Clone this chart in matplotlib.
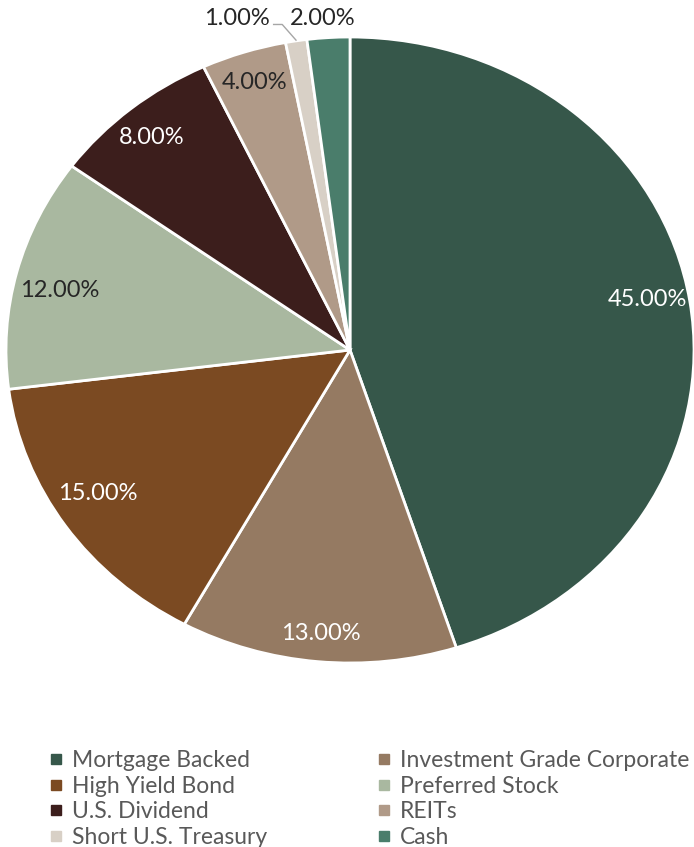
import numpy as np
import matplotlib
matplotlib.use("Agg")
import matplotlib.pyplot as plt
from matplotlib.lines import Line2D

plt.rcParams['font.family'] = ['Lato', 'DejaVu Sans']

categories = ["Mortgage Backed", "Investment Grade Corporate", "High Yield Bond",
              "Preferred Stock", "U.S. Dividend", "REITs", "Short U.S. Treasury", "Cash"]
values = [45, 13, 15, 12, 8, 4, 1, 2]
colors = ["#36574a", "#957a62", "#7b4a22", "#a9b8a0", "#3c1e1c", "#b09a88", "#d8d0c6", "#4a7d6b"]
label_colors = ["white", "white", "white", "#262626", "white", "#262626", "#262626", "#262626"]
# label placement inside the slices: distance from centre, angle nudge in degrees
label_dist = [0.88, 0.91, 0.865, 0.865, 0.89, 0.9, None, None]
label_turn = [1.5, 0, -2.3, 1.6, 0.8, 0, 0, 0]

W, H = 694, 847
fig = plt.figure(figsize=(W / 100, H / 100), dpi=100)
ax = fig.add_axes([6 / W, (H - 663) / H, 688 / W, 626 / H])

wedges, texts, pcts = ax.pie(values, colors=colors, startangle=90, counterclock=False,
                             autopct="%.2f%%", pctdistance=0.87,
                             wedgeprops=dict(edgecolor="white", linewidth=2),
                             textprops=dict(fontsize=17))
ax.set_aspect("auto")
ax.set_xlim(-1, 1)
ax.set_ylim(-1, 1)
ax.axis("off")

for w, t, c, d, turn in zip(wedges, pcts, label_colors, label_dist, label_turn):
    t.set_color(c)
    if d is not None:
        a = np.deg2rad((w.theta1 + w.theta2) / 2 + turn)
        t.set_position((d * np.cos(a), d * np.sin(a)))

# small slices get labels outside, above the pie
pcts[6].set_position((-0.33, 1.058))
pcts[7].set_position((-0.078, 1.058))
ax.plot([-0.222, -0.197, -0.157], [1.04, 1.04, 0.99], color="#a6a6a6", lw=1,
        clip_on=False)

order = [0, 2, 4, 6, 1, 3, 5, 7]
handles = [Line2D([], [], marker="s", linestyle="", markersize=7, color=colors[i])
           for i in order]
labels = [categories[i] for i in order]
fig.legend(handles, labels, loc="upper left", bbox_to_anchor=(50 / W, 1 - 750 / H),
           ncol=2, frameon=False, fontsize=16.5, labelcolor="#595959",
           handlelength=0.5, handletextpad=0.45, columnspacing=4.85,
           labelspacing=0.2, borderpad=0, borderaxespad=0)

fig.savefig("out.png", dpi=100)
